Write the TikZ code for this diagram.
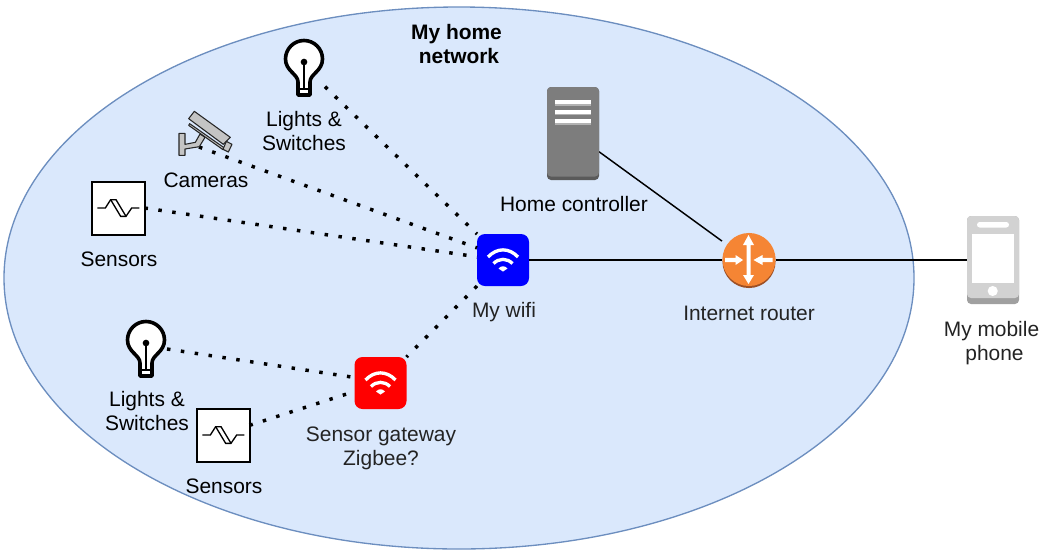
\documentclass[tikz,border=0pt]{standalone}
\usepackage{fontspec}
\usetikzlibrary{shapes.geometric}
\setmainfont{Liberation Sans}
\definecolor{ellfill}{HTML}{DAE8FC}
\definecolor{ellline}{HTML}{6C8EBF}
\definecolor{awstext}{HTML}{232323}
\definecolor{routerorange}{HTML}{F58534}
\definecolor{routershade}{HTML}{9D5025}
\definecolor{servergray}{HTML}{7D7D7D}
\definecolor{servershade}{HTML}{5A5A5A}
\definecolor{phonegray}{HTML}{D2D2D2}
\definecolor{phoneshade}{HTML}{A0A0A0}
\definecolor{camgray}{HTML}{C4C4C4}
\tikzset{
  label text/.style={font=\fontsize{15.7pt}{18pt}\selectfont,align=center,inner sep=0pt,text=black},
  aws text/.style={label text,text=awstext},
  iconbox/.style={inner sep=0pt,outer sep=0pt,minimum width=#1*0.75pt,minimum height=#1*0.75pt},
  wifibox/.style={iconbox=52,rounded corners=6pt},
  sensorbox/.style={iconbox=53,draw=black,fill=white,line width=1.5pt},
  dotted link/.style={line width=2.6pt,dash pattern=on 2.6pt off 7.9pt,black},
  solid link/.style={line width=1.1pt,black},
}
\newcommand{\wifiicon}[1]{%
  \begin{scope}[shift={(#1)},white,line width=2.5pt]
    \draw (-15,-3) .. controls (-6,-12.5) and (6,-12.5) .. (15,-3);
    \draw (-9.5,3.5) .. controls (-4,-2) and (4,-2) .. (9.5,3.5);
    \fill (-4.5,8.5) .. controls (-2,5.5) and (2,5.5) .. (4.5,8.5) -- (0,11.5) -- cycle;
  \end{scope}}
\newcommand{\sensoricon}[1]{%
  \begin{scope}[shift={(#1)},x=.25pt,y=-.25pt,black,line width=1pt,line join=miter]
    \draw (-62,0) -- (-38,0) -- (-22,-25) -- (-6,-25) -- (24,25);
    \draw (-22,-25) -- (8,25) -- (24,25) -- (41,0) -- (64,0);
  \end{scope}}
\newcommand{\bulbicon}[1]{%
  \begin{scope}[shift={(#1)},black]
    \draw[line width=2.7pt,fill=white,line join=round]
      (-7,27) -- (-7,14) .. controls (-7,6) and (-19.5,3) .. (-19.5,-9)
      .. controls (-19.5,-19.2) and (-11.2,-27.5) .. (-1,-27.5)
      .. controls (9.2,-27.5) and (17.5,-19.2) .. (17.5,-9)
      .. controls (17.5,3) and (5,6) .. (5,14) -- (5,27) -- cycle;
    \fill (-1,-6) circle[radius=2.5pt];
    \draw[line width=1.8pt] (-1,-6) -- (-1,21);
    \draw[line width=1.6pt] (-7,21) -- (5,21);
  \end{scope}}
\begin{document}
\begin{tikzpicture}[x=.75pt,y=-.75pt]
\useasboundingbox (0,0) rectangle (1041,554);
\node[ellipse,fill=ellfill,draw=ellline,line width=1pt,inner sep=0pt,outer sep=0pt,minimum width=682.5pt,minimum height=406.5pt] (home) at (459,278) {};

% icon boxes
\node[wifibox,fill=blue] (wifi) at (503,260) {};
\node[wifibox,fill=red] (gateway) at (380.5,383) {};
\node[sensorbox] (sensorA) at (118,208) {};
\node[sensorbox] (sensorB) at (223,435) {};
\node[iconbox=0,minimum width=30pt,minimum height=42pt] (bulbA) at (305,68) {};
\node[iconbox=0,minimum width=30pt,minimum height=42pt] (bulbB) at (147,349) {};
\node[iconbox=0,minimum width=40.5pt,minimum height=27.75pt] (camera) at (205,128.5) {};
\node[iconbox=0,minimum width=39pt,minimum height=69.75pt] (server) at (573,133.5) {};
\node[iconbox=54] (router) at (749,260) {};
\node[iconbox=0,minimum width=39.75pt,minimum height=66pt] (phone) at (993,260) {};

% connectors
\draw[dotted link] (bulbA.-43) -- (wifi.north west);
\draw[dotted link] (camera.252) -- (wifi.155);
\draw[dotted link] (sensorA.east) -- (wifi.173);
\draw[dotted link] (wifi.south west) -- (gateway.north east);
\draw[dotted link] (bulbB.east) -- (gateway.168);
\draw[dotted link] (sensorB.20) -- (gateway.198);
\draw[solid link] (wifi.east) -- (router.west);
\draw[solid link] (server.-35) -- (router.145);
\draw[solid link] (router.east) -- (phone.west);

% icon graphics
\wifiicon{wifi.center}
\wifiicon{gateway.center}
\sensoricon{sensorA.center}
\sensoricon{sensorB.center}
\bulbicon{bulbA.center}
\bulbicon{bulbB.center}

% camera
\begin{scope}[shift={(160,30)},x=.25pt,y=-.25pt,line width=.8pt,draw=black!85,fill=camgray,line join=round]
  \filldraw (57,310) -- (75,310) -- (75,343) -- (106,337) -- (120,312) -- (135,322) -- (118,350) -- (75,357) -- (75,376) -- (57,376) -- cycle;
  \filldraw (103,244) -- (211,322) -- (190,343) -- (86,266) -- cycle;
  \filldraw (86,286) -- (89,281) -- (192,353) -- (189,359) -- cycle;
  \filldraw (199,334) -- (216,343) -- (205,366) -- (189,358) -- cycle;
\end{scope}

% server
\fill[servershade,rounded corners=3pt] (547,87) rectangle (599,180);
\fill[servergray,rounded corners=3pt] (547,87) rectangle (599,176.5);
\foreach \yy in {100,109.5,119} {
  \fill[white] (555,\yy) rectangle (591,\yy+4);
  \fill[black!30] (555,\yy+4) rectangle (591,\yy+5.5);
}

% router
\fill[routershade] (749,261.5) circle[radius=19.9pt];
\fill[routerorange] (749,259.5) circle[radius=19.9pt];
\begin{scope}[shift={(748.5,260)}]
  \fill[white] (0,-25) -- (5.5,-15) -- (2,-15) -- (2,15) -- (5.5,15) -- (0,24) -- (-5.5,15) -- (-2,15) -- (-2,-15) -- (-5.5,-15) -- cycle;
  \fill[white] (-23.5,-2.2) -- (-13,-2.2) -- (-13,-5) -- (-5.5,0) -- (-13,5) -- (-13,2.2) -- (-23.5,2.2) -- cycle;
  \fill[white] (24,-2.2) -- (14,-2.2) -- (14,-5) -- (5,0) -- (14,5) -- (14,2.2) -- (24,2.2) -- cycle;
\end{scope}

% phone
\fill[phoneshade,rounded corners=3pt] (967,216) rectangle (1019,304);
\fill[phonegray,rounded corners=3pt] (967,216) rectangle (1019,298);
\fill[white] (972,233.5) rectangle (1014,282.5);
\fill[white,rounded corners=2pt] (977,222) rectangle (1009,227.5);
\fill[white] (992.7,291) circle[radius=3.8pt];

% labels
\node[label text,font=\fontsize{15.7pt}{18pt}\selectfont\bfseries] (title) at (459,44) {My home\hspace*{3.75pt}\\network};
\node[label text] (lblBulbA) at (304,131) {Lights \&\\Switches};
\node[label text] (lblCamera) at (206,180) {Cameras};
\node[label text] (lblSensorA) at (119,259) {Sensors};
\node[aws text] (lblWifi) at (504,312) {My wifi};
\node[label text] (lblServer) at (574,204) {Home controller};
\node[aws text] (lblRouter) at (749,313) {Internet router};
\node[aws text] (lblPhone) at (991.5,343) {My mobile\\\hspace*{4.5pt}phone};
\node[label text] (lblBulbB) at (147,411) {Lights \&\\Switches};
\node[label text] (lblSensorB) at (224,486) {Sensors};
\node[aws text] (lblGateway) at (381,448) {Sensor gateway\\Zigbee?};
\end{tikzpicture}
\end{document}
